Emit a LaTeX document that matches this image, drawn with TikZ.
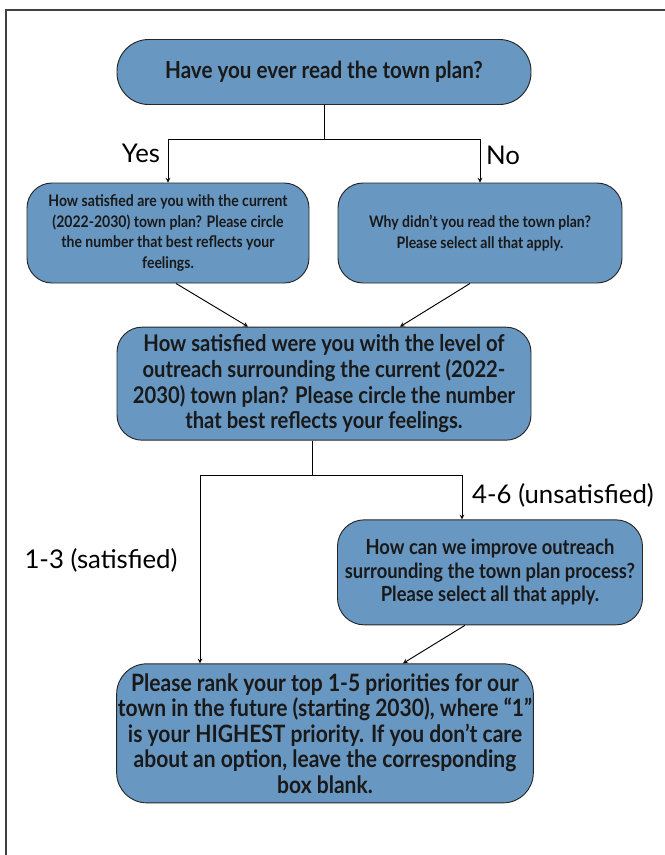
\documentclass[tikz,border=0pt]{standalone}
\usepackage{fontspec}
\setmainfont{Lato}[FakeStretch=0.88]
\newfontfamily\labelfont{Lato}
\definecolor{boxblue}{RGB}{104,151,193}

\begin{document}
\begin{tikzpicture}[node distance={15mm}, thick, >=stealth,
    main/.style = {draw=black!85, rectangle, fill=boxblue, align=center, inner xsep=1pt, text=black!90},
    lbl/.style = {font=\labelfont\fontsize{22}{26}\selectfont}]
    \useasboundingbox (0,0) rectangle (19.95,-25.65);
    % page frame (top and left only)
    \draw[line width=1.5pt, black!75] (0.18,-25.65) -- (0.18,-0.29) -- (19.95,-0.29);

    \node[main, minimum width=12.42cm, minimum height=1.95cm, rounded corners=0.95cm, font=\bfseries\fontsize{20}{24}\selectfont] (1) at (9.72,-2.16) {Have you ever read the town plan?};
    \node[main, minimum width=8.46cm, minimum height=3cm, rounded corners=0.75cm, font=\bfseries\fontsize{13.6}{17.6}\selectfont] (2) [below of=1, node distance=4.83cm, xshift=-4.68cm] {How satisfied are you with the current\\(2022-2030) town plan? Please circle\\the number that best reflects your\\feelings.};
    \node[main, minimum width=8.52cm, minimum height=3cm, rounded corners=0.75cm, font=\bfseries\fontsize{13.6}{17.6}\selectfont] (3) [right of=2, node distance=9.36cm] {Why didn’t you read the town plan?\\Please select all that apply.};
    \node[main, minimum width=12.42cm, minimum height=3.39cm, rounded corners=0.75cm, font=\bfseries\fontsize{19.6}{22}\selectfont] (4) [below of=1, node distance=9.35cm] {How satisfied were you with the level of\\outreach surrounding the current (2022-\\2030) town plan? Please circle the number\\that best reflects your feelings.};
    \node[main, minimum width=9.15cm, minimum height=3.15cm, rounded corners=0.8cm, font=\bfseries\fontsize{17.8}{20}\selectfont] (6) [below of=4, node distance=5.66cm, xshift=4.98cm] {How can we improve outreach\\surrounding the town plan process?\\Please select all that apply.};
    \node[main, minimum width=12.48cm, minimum height=4.17cm, rounded corners=0.9cm, font=\bfseries\fontsize{20.4}{21.8}\selectfont] (5) [below of=4, node distance=10.49cm, xshift=0.03cm] {Please rank your top 1-5 priorities for our\\town in the future (starting 2030), where “1”\\is your HIGHEST priority. If you don’t care\\about an option, leave the corresponding\\box blank.};

    \node[lbl] (yes) at (4.23,-4.59) {Yes};
    \node[lbl] (no) at (15.09,-4.65) {No};
    \node[lbl] (unsat) at (16.89,-14.85) {4-6 (unsatisfied)};
    \node[lbl] (sat) at (3.03,-16.8) {1-3 (satisfied)};

    \coordinate (s1) at ([yshift=-1.02cm]1.south);
    \coordinate (s2) at ([xshift=-0.36cm, yshift=-1.05cm]4.south);
    \draw[-] (1) -- (s1);
    \draw[->] (s1) -| (2);
    \draw[->] (s1) -| (3);
    \draw[->] ([xshift=0.24cm]2.south) -- ([xshift=-2.28cm]4.north);
    \draw[->] ([xshift=-0.3cm]3.south) -- ([xshift=2.28cm]4.north);
    \draw[-] ([xshift=-0.36cm]4.south) -- (s2);
    \draw[->] (s2) -| ([xshift=-3.75cm]5.north);
    \draw[->] (s2) -| ([xshift=-0.84cm]6.north);
    \draw[->] ([xshift=-0.75cm]6.south) -- ([xshift=2.34cm]5.north);
\end{tikzpicture}
\end{document}
